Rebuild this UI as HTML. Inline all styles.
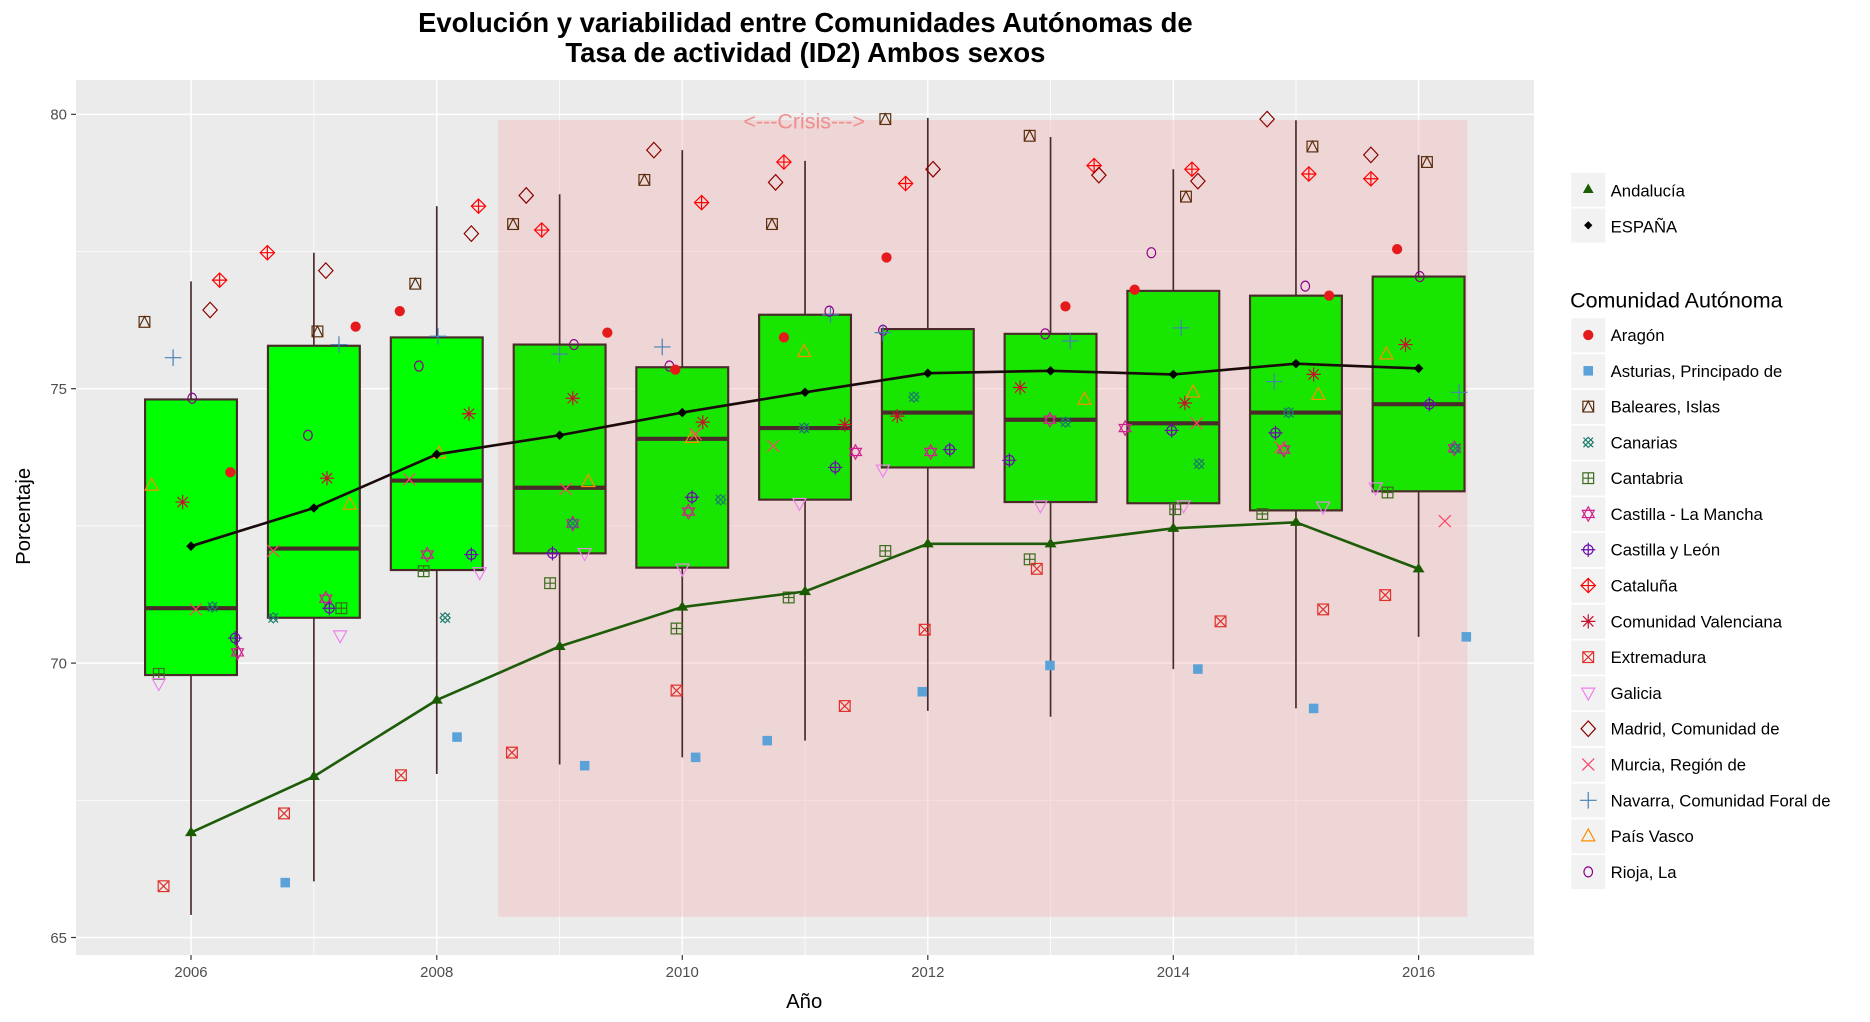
<!DOCTYPE html>
<html><head><meta charset="utf-8"><style>
html,body{margin:0;padding:0;background:#fff;}
svg{display:block;font-family:"Liberation Sans",sans-serif;}
</style></head><body>
<svg width="1870" height="1022" viewBox="0 0 1870 1022" xmlns="http://www.w3.org/2000/svg">
<defs>
<g id="arag"><circle r="4.3" fill="#e41a1c"/></g>
<g id="astu"><rect x="-4" y="-4" width="8" height="8" fill="#5aa2d8"/></g>
<g id="bale" fill="none" stroke="#5a2d0c" stroke-width="1"><rect x="-4.5" y="-4.5" width="9" height="9"/><path d="M-4.5,4.5 L0,-4.5 L4.5,4.5"/></g>
<g id="cana" fill="none" stroke="#1b7b6b" stroke-width="1"><path d="M-4,-4L4,4M-4,4L4,-4"/><rect x="-3" y="-3" width="6" height="6" transform="rotate(45)"/></g>
<g id="cant" fill="none" stroke="#3b6b1e" stroke-width="1"><rect x="-4.5" y="-4.5" width="9" height="9"/><path d="M0,-4.5V4.5M-4.5,0H4.5"/></g>
<g id="clm" fill="none" stroke="#d0208d" stroke-width="1"><path d="M0,-6L5,3H-5Z"/><path d="M0,6L5,-3H-5Z"/></g>
<g id="cyl" fill="none" stroke="#6a0dad" stroke-width="1"><circle r="4"/><path d="M0,-6V6M-6,0H6"/></g>
<g id="cata" fill="none" stroke="#ff0000" stroke-width="1"><path d="M0,-6L6,0L0,6L-6,0Z"/><path d="M0,-6V6M-6,0H6"/></g>
<g id="cval" fill="none" stroke="#c8102e" stroke-width="1"><path d="M0,-6V6M-6,0H6M-4.3,-4.3L4.3,4.3M-4.3,4.3L4.3,-4.3"/></g>
<g id="extr" fill="none" stroke="#e0302a" stroke-width="1"><rect x="-4.5" y="-4.5" width="9" height="9"/><path d="M-4.5,-4.5L4.5,4.5M-4.5,4.5L4.5,-4.5"/></g>
<g id="gali" fill="none" stroke="#ee82ee" stroke-width="1"><path d="M-5.5,-4H5.5L0,6Z"/></g>
<g id="madr" fill="none" stroke="#8b0000" stroke-width="1"><path d="M0,-6.5L6,0L0,6.5L-6,0Z"/></g>
<g id="murc" fill="none" stroke="#ff4466" stroke-width="1"><path d="M-5,-5L5,5M-5,5L5,-5"/></g>
<g id="nava" fill="none" stroke="#4682b4" stroke-width="1"><path d="M0,-7V7M-7,0H7"/></g>
<g id="pvas" fill="none" stroke="#ff8c00" stroke-width="1"><path d="M0,-6L5.5,4H-5.5Z"/></g>
<g id="rioj" fill="none" stroke="#8b008b" stroke-width="1"><ellipse rx="3.6" ry="4.2"/></g>
</defs>

<g transform="matrix(1.193,0,0,1.193,0.12,-1.4)">
<rect x="63.6" y="68.2" width="1222.1" height="733.5" fill="#ebebeb"/>
<g stroke="#fff" stroke-width="0.6">
<line x1="63.6" x2="1285.7" y1="212" y2="212"/><line x1="63.6" x2="1285.7" y1="442" y2="442"/><line x1="63.6" x2="1285.7" y1="672" y2="672"/>
<line y1="68.2" y2="801.7" x1="263" x2="263"/><line y1="68.2" y2="801.7" x1="469" x2="469"/><line y1="68.2" y2="801.7" x1="674.7" x2="674.7"/><line y1="68.2" y2="801.7" x1="880.5" x2="880.5"/><line y1="68.2" y2="801.7" x1="1086.2" x2="1086.2"/>
</g>
<g stroke="#fff" stroke-width="1.2">
<line x1="63.6" x2="1285.7" y1="97" y2="97"/><line x1="63.6" x2="1285.7" y1="327" y2="327"/><line x1="63.6" x2="1285.7" y1="557" y2="557"/><line x1="63.6" x2="1285.7" y1="787" y2="787"/>
<line y1="68.2" y2="801.7" x1="160" x2="160"/><line y1="68.2" y2="801.7" x1="366" x2="366"/><line y1="68.2" y2="801.7" x1="571.8" x2="571.8"/><line y1="68.2" y2="801.7" x1="777.6" x2="777.6"/><line y1="68.2" y2="801.7" x1="983.4" x2="983.4"/><line y1="68.2" y2="801.7" x1="1189" x2="1189"/>
</g>
<rect x="417.4" y="101.8" width="812.6" height="667.8" fill="#f4b6b6" fill-opacity="0.4"/>
<text x="674" y="109" font-size="18" fill="#f08080" fill-opacity="0.85" text-anchor="middle">&lt;---Crisis---&gt;</text>

<g stroke="#4a2a2a" stroke-width="1.4">
<line x1="160" x2="160" y1="237" y2="768"/>
<line x1="263" x2="263" y1="213" y2="740"/>
<line x1="366" x2="366" y1="174" y2="650"/>
<line x1="469" x2="469" y1="164" y2="642"/>
<line x1="571.8" x2="571.8" y1="127" y2="636"/>
<line x1="674.7" x2="674.7" y1="136" y2="622"/>
<line x1="777.6" x2="777.6" y1="100" y2="597"/>
<line x1="880.5" x2="880.5" y1="116" y2="602"/>
<line x1="983.4" x2="983.4" y1="143" y2="562"/>
<line x1="1086.2" x2="1086.2" y1="102" y2="595"/>
<line x1="1189" x2="1189" y1="131" y2="535"/>
</g>
<g stroke="#4a2a2a" stroke-width="1.8">
<rect x="121.5" y="336" width="77" height="231" fill="#00ff00"/>
<rect x="224.5" y="291" width="77" height="228" fill="#00ff00"/>
<rect x="327.5" y="284" width="77" height="195" fill="#00ff00"/>
<rect x="430.5" y="290" width="77" height="175" fill="#19e600"/>
<rect x="533.3" y="309" width="77" height="168" fill="#19e600"/>
<rect x="636.2" y="265" width="77" height="155" fill="#19e600"/>
<rect x="739.1" y="277" width="77" height="116" fill="#19e600"/>
<rect x="842" y="281" width="77" height="141" fill="#19e600"/>
<rect x="944.9" y="245" width="77" height="178" fill="#19e600"/>
<rect x="1047.7" y="249" width="77" height="180" fill="#19e600"/>
<rect x="1150.5" y="233" width="77" height="180" fill="#19e600"/>
</g>
<g stroke="#4a2a2a" stroke-width="3.5">
<line x1="121.5" x2="198.5" y1="511" y2="511"/>
<line x1="224.5" x2="301.5" y1="461" y2="461"/>
<line x1="327.5" x2="404.5" y1="404" y2="404"/>
<line x1="430.5" x2="507.5" y1="410" y2="410"/>
<line x1="533.3" x2="610.3" y1="369" y2="369"/>
<line x1="636.2" x2="713.2" y1="360" y2="360"/>
<line x1="739.1" x2="816.1" y1="347" y2="347"/>
<line x1="842" x2="919" y1="353" y2="353"/>
<line x1="944.9" x2="1021.9" y1="356" y2="356"/>
<line x1="1047.7" x2="1124.7" y1="347" y2="347"/>
<line x1="1150.5" x2="1227.5" y1="340" y2="340"/>
</g>

<use href="#bale" x="121" y="271"/><use href="#nava" x="145" y="301"/><use href="#rioj" x="161" y="335"/><use href="#madr" x="176" y="261"/><use href="#cata" x="184" y="236"/><use href="#arag" x="193" y="397"/><use href="#pvas" x="127" y="408"/><use href="#cval" x="153" y="422"/><use href="#murc" x="164" y="512"/><use href="#cana" x="178" y="510"/><use href="#cyl" x="197" y="536"/><use href="#clm" x="199" y="548"/><use href="#cant" x="133" y="566"/><use href="#gali" x="133" y="574"/><use href="#extr" x="137" y="744"/>
<use href="#cata" x="224" y="213"/><use href="#madr" x="273" y="228"/><use href="#bale" x="266" y="279"/><use href="#arag" x="298" y="275"/><use href="#nava" x="284" y="290"/><use href="#rioj" x="258" y="366"/><use href="#cval" x="274" y="402"/><use href="#pvas" x="293" y="424"/><use href="#murc" x="229" y="463"/><use href="#clm" x="273" y="503"/><use href="#cyl" x="276" y="511"/><use href="#cant" x="286" y="511"/><use href="#cana" x="229" y="519"/><use href="#gali" x="285" y="534"/><use href="#extr" x="238" y="683"/><use href="#astu" x="239" y="741"/>
<use href="#cata" x="401" y="174"/><use href="#madr" x="395" y="197"/><use href="#bale" x="348" y="239"/><use href="#arag" x="335" y="262"/><use href="#nava" x="367" y="283"/><use href="#rioj" x="351" y="308"/><use href="#cval" x="393" y="348"/><use href="#pvas" x="368" y="381"/><use href="#murc" x="343" y="403"/><use href="#clm" x="358" y="466"/><use href="#cyl" x="395" y="466"/><use href="#cana" x="373" y="519"/><use href="#cant" x="355" y="480"/><use href="#gali" x="402" y="481"/><use href="#astu" x="383" y="619"/><use href="#extr" x="336" y="651"/>
<use href="#bale" x="430" y="189"/><use href="#madr" x="441" y="165"/><use href="#cata" x="454" y="194"/><use href="#arag" x="509" y="280"/><use href="#nava" x="469" y="298"/><use href="#rioj" x="481" y="290"/><use href="#cval" x="480" y="335"/><use href="#pvas" x="493" y="405"/><use href="#murc" x="474" y="411"/><use href="#clm" x="480" y="440"/><use href="#cyl" x="463" y="465"/><use href="#gali" x="490" y="465"/><use href="#cant" x="461" y="490"/><use href="#cana" x="480" y="440"/><use href="#astu" x="490" y="643"/><use href="#extr" x="429" y="632"/>
<use href="#bale" x="540" y="152"/><use href="#madr" x="548" y="127"/><use href="#cata" x="588" y="171"/><use href="#nava" x="555" y="292"/><use href="#rioj" x="561" y="308"/><use href="#arag" x="566" y="311"/><use href="#pvas" x="580" y="368"/><use href="#cval" x="589" y="355"/><use href="#murc" x="583" y="365"/><use href="#cana" x="604" y="420"/><use href="#cyl" x="580" y="418"/><use href="#clm" x="577" y="430"/><use href="#gali" x="572" y="478"/><use href="#cant" x="567" y="528"/><use href="#extr" x="567" y="580"/><use href="#astu" x="583" y="636"/>
<use href="#bale" x="647" y="189"/><use href="#madr" x="650" y="154"/><use href="#cata" x="657" y="137"/><use href="#arag" x="657" y="284"/><use href="#pvas" x="674" y="296"/><use href="#nava" x="696" y="265"/><use href="#rioj" x="695" y="262"/><use href="#cval" x="708" y="357"/><use href="#murc" x="648" y="375"/><use href="#cana" x="674" y="360"/><use href="#cyl" x="700" y="393"/><use href="#clm" x="717" y="380"/><use href="#gali" x="670" y="423"/><use href="#cant" x="661" y="502"/><use href="#extr" x="708" y="593"/><use href="#astu" x="643" y="622"/>
<use href="#bale" x="742" y="101"/><use href="#cata" x="759" y="155"/><use href="#madr" x="782" y="143"/><use href="#arag" x="743" y="217"/><use href="#rioj" x="740" y="278"/><use href="#nava" x="740" y="280"/><use href="#cana" x="766" y="334"/><use href="#cval" x="752" y="350"/><use href="#clm" x="780" y="380"/><use href="#cyl" x="796" y="378"/><use href="#gali" x="740" y="395"/><use href="#cant" x="742" y="463"/><use href="#extr" x="775" y="529"/><use href="#astu" x="773" y="581"/>
<use href="#bale" x="863" y="115"/><use href="#cata" x="917" y="140"/><use href="#madr" x="921" y="148"/><use href="#arag" x="893" y="258"/><use href="#rioj" x="876" y="281"/><use href="#nava" x="897" y="287"/><use href="#cval" x="855" y="326"/><use href="#pvas" x="909" y="336"/><use href="#clm" x="880" y="353"/><use href="#cana" x="893" y="355"/><use href="#cyl" x="846" y="387"/><use href="#gali" x="872" y="425"/><use href="#cant" x="863" y="470"/><use href="#extr" x="869" y="478"/><use href="#astu" x="880" y="559"/>
<use href="#bale" x="994" y="166"/><use href="#cata" x="999" y="143"/><use href="#madr" x="1004" y="153"/><use href="#rioj" x="965" y="213"/><use href="#arag" x="951" y="244"/><use href="#nava" x="990" y="276"/><use href="#cval" x="993" y="339"/><use href="#pvas" x="1000" y="330"/><use href="#clm" x="943" y="360"/><use href="#murc" x="1003" y="356"/><use href="#cyl" x="982" y="362"/><use href="#cana" x="1005" y="390"/><use href="#gali" x="992" y="425"/><use href="#cant" x="985" y="428"/><use href="#extr" x="1023" y="522"/><use href="#astu" x="1004" y="562"/>
<use href="#madr" x="1062" y="101"/><use href="#bale" x="1100" y="124"/><use href="#cata" x="1097" y="147"/><use href="#arag" x="1114" y="249"/><use href="#rioj" x="1094" y="241"/><use href="#cval" x="1101" y="315"/><use href="#nava" x="1068" y="321"/><use href="#pvas" x="1105" y="332"/><use href="#cyl" x="1069" y="364"/><use href="#cana" x="1080" y="347"/><use href="#clm" x="1076" y="378"/><use href="#murc" x="1073" y="376"/><use href="#gali" x="1109" y="426"/><use href="#cant" x="1058" y="432"/><use href="#extr" x="1109" y="512"/><use href="#astu" x="1101" y="595"/>
<use href="#madr" x="1149" y="131"/><use href="#bale" x="1196" y="137"/><use href="#cata" x="1149" y="151"/><use href="#arag" x="1171" y="210"/><use href="#rioj" x="1190" y="233"/><use href="#cval" x="1178" y="290"/><use href="#pvas" x="1162" y="298"/><use href="#nava" x="1223" y="330"/><use href="#cyl" x="1198" y="340"/><use href="#clm" x="1219" y="377"/><use href="#cana" x="1220" y="377"/><use href="#murc" x="1211" y="438"/><use href="#gali" x="1153" y="410"/><use href="#cant" x="1163" y="414"/><use href="#extr" x="1161" y="500"/><use href="#astu" x="1229" y="535"/>

<polyline fill="none" stroke="#1e5c0a" stroke-width="2.2" points="160,699 263,652 366,588 469,543 571.8,510 674.7,497 777.6,457 880.5,457 983.4,444 1086.2,439 1189,478"/>
<g fill="#1a5c00">
<path d="M160,694l5,8h-10z"/><path d="M263,647l5,8h-10z"/><path d="M366,583l5,8h-10z"/><path d="M469,538l5,8h-10z"/><path d="M571.8,505l5,8h-10z"/><path d="M674.7,492l5,8h-10z"/><path d="M777.6,452l5,8h-10z"/><path d="M880.5,452l5,8h-10z"/><path d="M983.4,439l5,8h-10z"/><path d="M1086.2,434l5,8h-10z"/><path d="M1189,473l5,8h-10z"/>
</g>
<polyline fill="none" stroke="#1a0a0a" stroke-width="2.2" points="160,459 263,427 366,382 469,366 571.8,347 674.7,330 777.6,314 880.5,312 983.4,315 1086.2,306 1189,310"/>
<g fill="#000">
<path d="M160,455l4,4l-4,4l-4,-4z"/><path d="M263,423l4,4l-4,4l-4,-4z"/><path d="M366,378l4,4l-4,4l-4,-4z"/><path d="M469,362l4,4l-4,4l-4,-4z"/><path d="M571.8,343l4,4l-4,4l-4,-4z"/><path d="M674.7,326l4,4l-4,4l-4,-4z"/><path d="M777.6,310l4,4l-4,4l-4,-4z"/><path d="M880.5,308l4,4l-4,4l-4,-4z"/><path d="M983.4,311l4,4l-4,4l-4,-4z"/><path d="M1086.2,302l4,4l-4,4l-4,-4z"/><path d="M1189,306l4,4l-4,4l-4,-4z"/>
</g>
<g stroke="#333" stroke-width="1">
<line x1="59.5" x2="63.6" y1="97" y2="97"/><line x1="59.5" x2="63.6" y1="327" y2="327"/><line x1="59.5" x2="63.6" y1="557" y2="557"/><line x1="59.5" x2="63.6" y1="787" y2="787"/>
<line y1="801.7" y2="805.8" x1="160" x2="160"/><line y1="801.7" y2="805.8" x1="366" x2="366"/><line y1="801.7" y2="805.8" x1="571.8" x2="571.8"/><line y1="801.7" y2="805.8" x1="777.6" x2="777.6"/><line y1="801.7" y2="805.8" x1="983.4" x2="983.4"/><line y1="801.7" y2="805.8" x1="1189" x2="1189"/>
</g>
<g font-size="12.5" fill="#4d4d4d">
<text x="56" y="101.5" text-anchor="end">80</text><text x="56" y="331.5" text-anchor="end">75</text><text x="56" y="561.5" text-anchor="end">70</text><text x="56" y="791.5" text-anchor="end">65</text>
<g text-anchor="middle"><text x="160" y="820">2006</text><text x="366" y="820">2008</text><text x="571.8" y="820">2010</text><text x="777.6" y="820">2012</text><text x="983.4" y="820">2014</text><text x="1189" y="820">2016</text></g>
</g>
<text x="674" y="846" font-size="17" text-anchor="middle" fill="#000">Año</text>
<text transform="translate(25,434) rotate(-90)" font-size="17" text-anchor="middle" fill="#000">Porcentaje</text>
<text x="675" y="28" font-size="23" font-weight="bold" text-anchor="middle">Evolución y variabilidad entre Comunidades Autónomas de</text>
<text x="675" y="53" font-size="23" font-weight="bold" text-anchor="middle">Tasa de actividad (ID2) Ambos sexos</text>

<g font-size="14" fill="#000">
<rect x="1317" y="146" width="28.5" height="28.5" fill="#f2f2f2"/><path d="M1331.2,155l4.5,8h-9z" fill="#1a5c00"/><text x="1350" y="166">Andalucía</text>
<rect x="1317" y="176" width="28.5" height="28.5" fill="#f2f2f2"/><path d="M1331.2,186.5l3.5,3.5l-3.5,3.5l-3.5,-3.5z" fill="#000"/><text x="1350" y="196">ESPAÑA</text>
<text x="1316" y="259" font-size="18">Comunidad Autónoma</text>
<g fill="#f2f2f2">
<rect x="1317" y="268" width="28.5" height="28.5"/><rect x="1317" y="298" width="28.5" height="28.5"/><rect x="1317" y="328" width="28.5" height="28.5"/><rect x="1317" y="358" width="28.5" height="28.5"/><rect x="1317" y="388" width="28.5" height="28.5"/><rect x="1317" y="418" width="28.5" height="28.5"/><rect x="1317" y="448" width="28.5" height="28.5"/><rect x="1317" y="478" width="28.5" height="28.5"/><rect x="1317" y="508" width="28.5" height="28.5"/><rect x="1317" y="538" width="28.5" height="28.5"/><rect x="1317" y="568" width="28.5" height="28.5"/><rect x="1317" y="598" width="28.5" height="28.5"/><rect x="1317" y="628" width="28.5" height="28.5"/><rect x="1317" y="658" width="28.5" height="28.5"/><rect x="1317" y="688" width="28.5" height="28.5"/><rect x="1317" y="718" width="28.5" height="28.5"/>
</g>
<use href="#arag" x="1331.2" y="282"/><text x="1350" y="287">Aragón</text>
<use href="#astu" x="1331.2" y="312"/><text x="1350" y="317">Asturias, Principado de</text>
<use href="#bale" x="1331.2" y="342"/><text x="1350" y="347">Baleares, Islas</text>
<use href="#cana" x="1331.2" y="372"/><text x="1350" y="377">Canarias</text>
<use href="#cant" x="1331.2" y="402"/><text x="1350" y="407">Cantabria</text>
<use href="#clm" x="1331.2" y="432"/><text x="1350" y="437">Castilla - La Mancha</text>
<use href="#cyl" x="1331.2" y="462"/><text x="1350" y="467">Castilla y León</text>
<use href="#cata" x="1331.2" y="492"/><text x="1350" y="497">Cataluña</text>
<use href="#cval" x="1331.2" y="522"/><text x="1350" y="527">Comunidad Valenciana</text>
<use href="#extr" x="1331.2" y="552"/><text x="1350" y="557">Extremadura</text>
<use href="#gali" x="1331.2" y="582"/><text x="1350" y="587">Galicia</text>
<use href="#madr" x="1331.2" y="612"/><text x="1350" y="617">Madrid, Comunidad de</text>
<use href="#murc" x="1331.2" y="642"/><text x="1350" y="647">Murcia, Región de</text>
<use href="#nava" x="1331.2" y="672"/><text x="1350" y="677">Navarra, Comunidad Foral de</text>
<use href="#pvas" x="1331.2" y="702"/><text x="1350" y="707">País Vasco</text>
<use href="#rioj" x="1331.2" y="732"/><text x="1350" y="737">Rioja, La</text>
</g>
</g>
</svg>
</body></html>
